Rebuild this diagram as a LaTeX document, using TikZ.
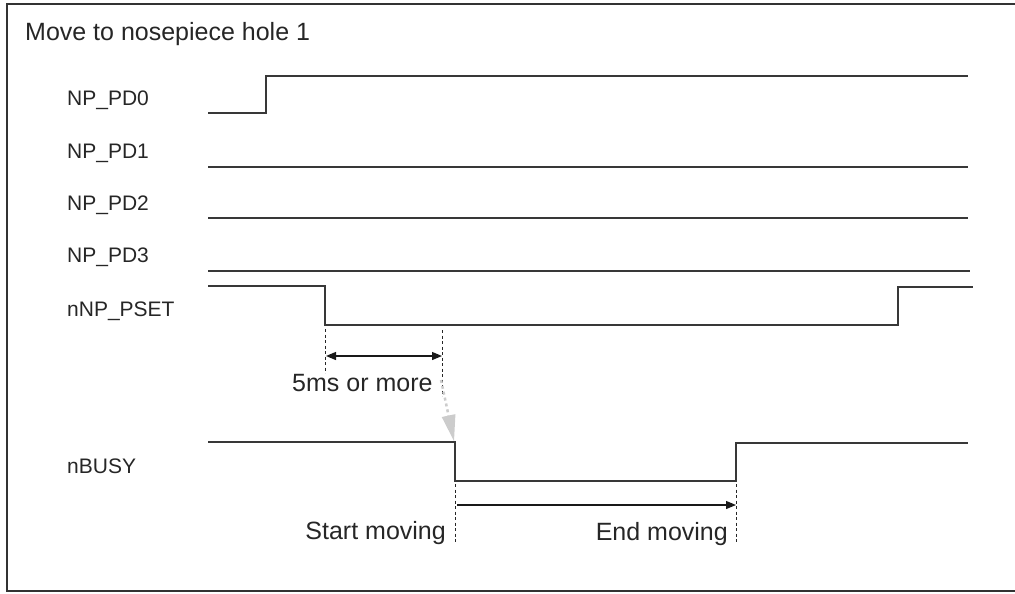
\documentclass[tikz,border=0pt]{standalone}
\usepackage{fontspec}
\setmainfont{Liberation Sans}
\usetikzlibrary{arrows.meta}
\begin{document}
\begin{tikzpicture}[x=1pt,y=-1pt,
  sig/.style={line width=1.7pt, draw=black!78, line join=miter},
  lbl/.style={anchor=base west, font=\fontsize{21}{24}\selectfont, inner sep=0, text=black!85},
  ann/.style={font=\fontsize{25}{28}\selectfont, inner sep=0, text=black!85},
  guide/.style={dash pattern=on 3pt off 2.5pt, line width=0.9pt, draw=black!85},
  dimarrow/.style={line width=1.2pt, draw=black!90, {Triangle[length=10pt,width=8pt]}-{Triangle[length=10pt,width=8pt]}},
  fwdarrow/.style={line width=1.2pt, draw=black!90, -{Triangle[length=10pt,width=8pt]}},
  hint/.style={line width=2.5pt, draw=black!20, dash pattern=on 3pt off 3pt, -{Triangle[length=26pt,width=14pt,fill=black!20,line width=0pt]}},
]
\useasboundingbox (0,0) rectangle (1015,594);
% frame
\draw[line width=2.2pt, black!80] (1020,4) -- (7,4) -- (7,591) -- (1020,591);

% title and labels
\node[anchor=base west, font=\fontsize{25}{28}\selectfont, inner sep=0, text=black!85] (title) at (25,41) {Move to nosepiece hole 1};
\node[lbl] (l0) at (67,106) {NP\_PD0};
\node[lbl] (l1) at (67,158) {NP\_PD1};
\node[lbl] (l2) at (67,210) {NP\_PD2};
\node[lbl] (l3) at (67,262) {NP\_PD3};
\node[lbl] (l4) at (67,316) {nNP\_PSET};
\node[lbl] (l5) at (67,473) {nBUSY};

% key coordinates
\coordinate (pd0a) at (208,113);
\coordinate (pd0b) at (266,113);
\coordinate (pd0c) at (266,76);
\coordinate (pd0d) at (968,76);
\coordinate (pd1a) at (208,167);
\coordinate (pd1b) at (968,167);
\coordinate (pd2a) at (208,218);
\coordinate (pd2b) at (968,218);
\coordinate (pd3a) at (208,271);
\coordinate (pd3b) at (970,271);
\coordinate (psa) at (208,286);
\coordinate (psb) at (325,286);
\coordinate (psc) at (325,325);
\coordinate (psd) at (898,325);
\coordinate (pse) at (898,287);
\coordinate (psf) at (973,287);
\coordinate (bya) at (208,442);
\coordinate (byb) at (455,442);
\coordinate (byc) at (455,481);
\coordinate (byd) at (736,481);
\coordinate (bye) at (736,443);
\coordinate (byf) at (968,443);

% signals
\draw[sig] (pd0a) -- (pd0b) -- (pd0c) -- (pd0d);
\draw[sig] (pd1a) -- (pd1b);
\draw[sig] (pd2a) -- (pd2b);
\draw[sig] (pd3a) -- (pd3b);
\draw[sig] (psa) -- (psb) -- (psc) -- (psd) -- (pse) -- (psf);
\draw[sig] (bya) -- (byb) -- (byc) -- (byd) -- (bye) -- (byf);

% guides 5ms
\coordinate (g1t) at (325,329);
\coordinate (g1b) at (325,373);
\coordinate (g2t) at (442,330);
\coordinate (g2b) at (442,396);
\draw[guide] (g1t) -- (g1b);
\draw[guide] (g2t) -- (g2b);
\coordinate (d1) at (326,356);
\coordinate (d2) at (442,356);
\draw[dimarrow] (d1) -- (d2);
\node[ann, anchor=base west] (t5ms) at (292,391) {5ms or more};

% hint arrow
\coordinate (h1) at (441,380);
\coordinate (h2) at (454,441);
\draw[hint] (h1) -- (h2);

% guides moving
\coordinate (g3t) at (455,484);
\coordinate (g3b) at (455,543);
\coordinate (g4t) at (736,484);
\coordinate (g4b) at (736,543);
\draw[guide] (g3t) -- (g3b);
\draw[guide] (g4t) -- (g4b);
\coordinate (m1) at (457,505);
\coordinate (m2) at (736,505);
\draw[fwdarrow] (m1) -- (m2);
\node[ann, anchor=base east] (tstart) at (446,539) {Start moving};
\node[ann, anchor=base east] (tend) at (728,540) {End moving};
\end{tikzpicture}
\end{document}
